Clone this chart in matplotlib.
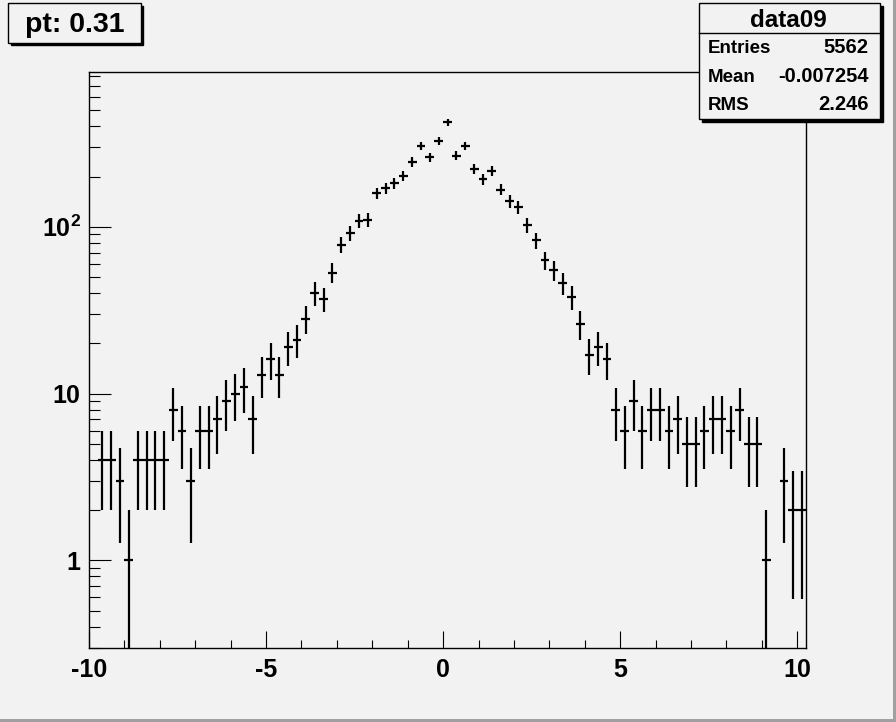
import numpy as np
import matplotlib
matplotlib.use('Agg')
import matplotlib.pyplot as plt
from matplotlib.patches import Rectangle
from matplotlib.ticker import FixedLocator, LogLocator, NullFormatter

# bin centres (width 0.25) and counts
centers = np.arange(-9.875, 10.2, 0.25)
counts = [0, 4, 4, 3, 1, 4, 4, 4, 4, 8, 6, 3, 6, 6, 7, 9, 10, 11, 7,
          13, 16, 13, 19, 21, 28, 40, 37, 53, 78, 92, 108, 110,
          159, 171, 182, 202, 245, 304, 261, 326,
          423, 267, 304, 222, 193, 215, 167, 142,
          131, 102, 83, 63, 55, 46, 38, 26, 17, 19, 16,
          8, 6, 9, 6, 8, 8, 6, 7, 5, 5, 6, 7, 7, 6, 8, 5, 5, 1, 0, 3, 2, 2]
ytick_vals = [1, 10, 100]
ytick_labels = ['1', '10', '$10^{2}$']
xtick_vals = [-10, -5, 0, 5, 10]
xtick_labels = ['-10', '-5', '0', '5', '10']
stats_name = 'data09'
stats_rows = [('Entries', '5562'), ('Mean', '-0.007254'), ('RMS', '2.246')]
title = 'pt: 0.31'

plt.rcParams['font.family'] = ['Liberation Sans', 'DejaVu Sans']
plt.rcParams['font.weight'] = 'bold'
plt.rcParams['mathtext.fontset'] = 'custom'
plt.rcParams['mathtext.rm'] = 'Liberation Sans:bold'
plt.rcParams['mathtext.it'] = 'Liberation Sans:bold'

bg = '#f2f2f2'
W, H = 896, 722
fig = plt.figure(figsize=(W / 100, H / 100), dpi=100, facecolor=bg)
ax = fig.add_axes([89 / W, 1 - 648 / H, (806 - 89) / W, (648 - 72.3) / H])
ax.set_facecolor(bg)

x = centers[:len(counts)]
n = np.array(counts, dtype=float)
keep = n > 0
x, n = x[keep], n[keep]
err = np.sqrt(n)
lo = np.minimum(err, n * 0.9999)  # n=1 bins go down to zero -> clip at frame
ax.errorbar(x, n, xerr=0.125, yerr=[lo, err], fmt='none', ecolor='black',
            elinewidth=1.6, capsize=0)

ax.set_yscale('log')
ax.set_xlim(-10, 10.245)
ax.set_ylim(0.298, 843)

ax.xaxis.set_major_locator(FixedLocator(xtick_vals))
ax.set_xticklabels(xtick_labels)
ax.xaxis.set_minor_locator(FixedLocator(np.arange(-10, 10.3, 1.0)))
ax.yaxis.set_major_locator(FixedLocator(ytick_vals))
ax.set_yticklabels(ytick_labels)
ax.yaxis.set_minor_locator(LogLocator(base=10, subs=np.arange(2, 10)))
ax.yaxis.set_minor_formatter(NullFormatter())

ax.tick_params(which='both', direction='in', top=False, right=False, width=0.8, colors='black')
ax.tick_params(axis='x', which='major', length=12, pad=7, labelsize=18)
ax.tick_params(axis='x', which='minor', length=6)
ax.tick_params(axis='y', which='major', length=16, pad=6, labelsize=18)
ax.tick_params(axis='y', which='minor', length=8)
for s in ax.spines.values():
    s.set_linewidth(1.0)

def px_box(x0, y0, x1, y1):
    # pixel rect (top-left origin) -> figure coords
    return x0 / W, 1 - y1 / H, (x1 - x0) / W, (y1 - y0) / H

# title box with shadow
for dx, fc in [(2.5, 'black'), (0, bg)]:
    bx, by, bw, bh = px_box(8.3 + dx, 3.3 + dx, 140.7 + dx, 42.7 + dx)
    fig.add_artist(Rectangle((bx, by), bw, bh, transform=fig.transFigure,
                             facecolor=fc, edgecolor='black', lw=1.0, zorder=5))
fig.text(74.5 / W, 1 - 32.5 / H, title, fontsize=20.5, ha='center', va='baseline', zorder=6)

# stats box
for dx, fc in [(2.5, 'black'), (0, bg)]:
    bx, by, bw, bh = px_box(699.3 + dx, 3.3 + dx, 880 + dx, 119 + dx)
    fig.add_artist(Rectangle((bx, by), bw, bh, transform=fig.transFigure,
                             facecolor=fc, edgecolor='black', lw=1.0, zorder=5))
fig.add_artist(plt.Line2D([699.3 / W, 880 / W], [1 - 33.3 / H] * 2,
                          transform=fig.transFigure, color='black', lw=1.0, zorder=6))
fig.text(788 / W, 1 - 27 / H, stats_name, fontsize=17.5, ha='center', va='baseline', zorder=6)
for i, (k, v) in enumerate(stats_rows):
    yb = 1 - (53.3 + 28.4 * i) / H
    fig.text(707.5 / W, yb, k, fontsize=13.5, ha='left', va='baseline', zorder=6)
    fig.text(868.5 / W, yb, v, fontsize=14.5, ha='right', va='baseline', zorder=6)

# canvas bevel on right and bottom
fig.add_artist(Rectangle((892.5 / W, 0), 3.5 / W, 1, transform=fig.transFigure,
                         facecolor='#a0a0a0', edgecolor='none', zorder=7))
fig.add_artist(Rectangle((0, 0), 1, 3 / H, transform=fig.transFigure,
                         facecolor='#a0a0a0', edgecolor='none', zorder=7))

fig.savefig('out.png', dpi=100, facecolor=bg)
